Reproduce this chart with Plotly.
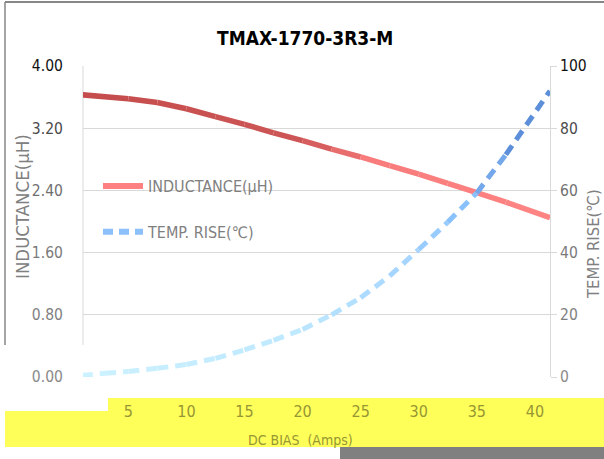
import plotly.graph_objects as go

# ---------------- data ----------------
title_text = "TMAX-1770-3R3-M"
x_title = "DC BIAS  (Amps)"
y1_title = "INDUCTANCE(μH)"
y2_title = "TEMP. RISE(℃)"
name_ind = "INDUCTANCE(μH)"
name_temp = "TEMP. RISE(℃)"

bias_ind = [1, 5, 7.5, 10, 12.5, 15, 17.5, 20, 22.5, 25, 27.5, 30, 32.5, 35, 37.5, 41.3]
inductance = [3.63, 3.58, 3.53, 3.45, 3.35, 3.25, 3.14, 3.04, 2.93, 2.83, 2.72, 2.61, 2.49, 2.37, 2.25, 2.05]

bias_temp = [1, 3, 5, 7.5, 10, 12.5, 15, 17.5, 20, 22.5, 25, 27.5, 30, 32.5, 35, 37.5, 41.3]
temp_rise = [0.5, 1.2, 1.8, 2.8, 4.0, 6.0, 8.7, 11.8, 15.3, 20.0, 25.5, 32.5, 41.0, 49.8, 59.2, 71.5, 92.0]

x_ticks = [5, 10, 15, 20, 25, 30, 35, 40]
y1_ticks = [0.0, 0.8, 1.6, 2.4, 3.2, 4.0]
y2_ticks = [0, 20, 40, 60, 80, 100]

# ---------------- layout constants ----------------
W, H = 604, 459
PL, PR, PT, PB = 83, 550, 66, 377
FONT = "Liberation Sans Narrow, DejaVu Sans Condensed, Liberation Sans, Arial"

def px(xp):
    return (xp - PL) / (PR - PL)

def py(yp):
    return (PB - yp) / (PB - PT)

def lerp_color(stops, x):
    if x <= stops[0][0]:
        c = stops[0][1]
    elif x >= stops[-1][0]:
        c = stops[-1][1]
    else:
        for (x0, c0), (x1, c1) in zip(stops[:-1], stops[1:]):
            if x0 <= x <= x1:
                t = (x - x0) / (x1 - x0)
                c = tuple(c0[i] + (c1[i] - c0[i]) * t for i in range(3))
                break
    return "rgb(%d,%d,%d)" % tuple(int(round(v)) for v in c)

ind_stops = [(1, (196, 76, 76)), (20, (206, 86, 86)), (26, (248, 124, 124)), (41.3, (255, 132, 132))]
temp_stops = [(1, (205, 242, 255)), (20, (190, 232, 255)), (29, (165, 212, 255)),
              (34, (135, 192, 252)), (37.5, (105, 155, 225)), (41.3, (80, 130, 210))]

fig = go.Figure()

# inductance segments (gradient)
for i in range(len(bias_ind) - 1):
    xm = (bias_ind[i] + bias_ind[i + 1]) / 2
    fig.add_trace(go.Scatter(
        x=bias_ind[i:i + 2], y=inductance[i:i + 2], mode="lines",
        line=dict(color=lerp_color(ind_stops, xm), width=5.5),
        showlegend=False, hoverinfo="skip", yaxis="y"))

# temperature segments (gradient, dashed)
for i in range(len(bias_temp) - 1):
    xm = (bias_temp[i] + bias_temp[i + 1]) / 2
    fig.add_trace(go.Scatter(
        x=bias_temp[i:i + 2], y=temp_rise[i:i + 2], mode="lines",
        line=dict(color=lerp_color(temp_stops, xm), width=5, dash="11px,7px"),
        showlegend=False, hoverinfo="skip", yaxis="y2"))

# legend entries
fig.add_trace(go.Scatter(x=[None], y=[None], mode="lines", name=name_ind,
                         line=dict(color="rgb(255,128,128)", width=6),
                         legendgroup="a", yaxis="y"))
fig.add_trace(go.Scatter(x=[None], y=[None], mode="lines", name=name_temp,
                         line=dict(color="rgb(140,192,250)", width=6, dash="10px,6px"),
                         legendgroup="b", yaxis="y2"))

def colored_ticks(vals, fmt):
    cols = ["#8a8a8a", "#7f7f7f", "#7a7a7a", "#6f6f6f", "#4a4a4a", "#111111"]
    return ["<span style='color:%s'>%s</span>" % (c, fmt(v)) for v, c in zip(vals, cols)]

shapes = [
    # yellow band (bottom)
    dict(type="rect", xref="paper", yref="paper", x0=px(108), x1=px(604), y0=py(447), y1=py(398),
         fillcolor="rgb(255,255,90)", line=dict(width=0), layer="below"),
    dict(type="rect", xref="paper", yref="paper", x0=px(5), x1=px(604), y0=py(447), y1=py(411),
         fillcolor="rgb(255,255,90)", line=dict(width=0), layer="below"),
    # gray stripe
    dict(type="rect", xref="paper", yref="paper", x0=px(340), x1=px(604), y0=py(459), y1=py(447),
         fillcolor="rgb(128,128,128)", line=dict(width=0), layer="below"),
    # outer border (top and left)
    dict(type="line", xref="paper", yref="paper", x0=px(5), x1=px(604), y0=py(2), y1=py(2),
         line=dict(color="rgb(134,134,134)", width=2)),
    dict(type="line", xref="paper", yref="paper", x0=px(5), x1=px(5), y0=py(2), y1=py(345),
         line=dict(color="rgb(134,134,134)", width=1.5)),
    # left axis line (visible only down to the white gap)
    dict(type="line", xref="paper", yref="paper", x0=0, x1=0, y0=py(66), y1=py(345),
         line=dict(color="#d9d9d9", width=1), layer="below"),
]

annotations = [
    dict(text=title_text, xref="paper", yref="paper", x=px(305), y=py(38),
         xanchor="center", yanchor="middle", showarrow=False,
         font=dict(family=FONT, size=19, color="#000000", weight="bold")),
    dict(text=x_title, xref="paper", yref="paper", x=px(300), y=py(440),
         xanchor="center", yanchor="middle", showarrow=False,
         font=dict(family=FONT, size=14, color="rgb(150,150,50)")),
    dict(text=y1_title, xref="paper", yref="paper", x=px(22), y=py(207),
         xanchor="center", yanchor="middle", showarrow=False, textangle=-90,
         font=dict(family=FONT, size=18.5, color="#808080")),
    dict(text=y2_title, xref="paper", yref="paper", x=px(593), y=py(244),
         xanchor="center", yanchor="middle", showarrow=False, textangle=-90,
         font=dict(family=FONT, size=16.5, color="#808080")),
]

fig.update_layout(
    width=W, height=H,
    margin=dict(l=PL, r=W - PR, t=PT, b=H - PB, pad=0),
    paper_bgcolor="white", plot_bgcolor="white",
    font=dict(family=FONT, color="#7f7f7f", size=16),
    showlegend=True,
    legend=dict(x=px(98), y=py(169), xanchor="left", yanchor="top",
                bgcolor="rgba(0,0,0,0)", traceorder="grouped", tracegroupgap=22,
                font=dict(family=FONT, size=16, color="#7f7f7f"), itemwidth=40),
    xaxis=dict(range=[1.1, 41.3], tickvals=x_ticks, showgrid=False, zeroline=False,
               showline=False, ticks="outside", ticklen=20, tickcolor="rgba(0,0,0,0)",
               tickfont=dict(family=FONT, size=16, color="rgb(150,150,50)")),
    yaxis=dict(range=[0, 4], tickvals=y1_ticks,
               ticktext=colored_ticks(y1_ticks, lambda v: "%.2f" % v),
               showgrid=True, gridcolor="#d9d9d9", gridwidth=1, zeroline=False,
               showline=False,
               ticks="outside", ticklen=16, tickcolor="rgba(0,0,0,0)",
               tickfont=dict(family=FONT, size=15.5)),
    yaxis2=dict(range=[0, 100], tickvals=y2_ticks,
                ticktext=colored_ticks(y2_ticks, lambda v: "%d" % v),
                overlaying="y", side="right", showgrid=False, zeroline=False,
                showline=True, linecolor="#d9d9d9", linewidth=1,
                ticks="outside", ticklen=6, tickcolor="#d9d9d9",
                tickfont=dict(family=FONT, size=15.5)),
    shapes=shapes, annotations=annotations,
)

fig.write_html("out.html", config={"displayModeBar": False},
               post_script="document.body.style.margin='0px';")
